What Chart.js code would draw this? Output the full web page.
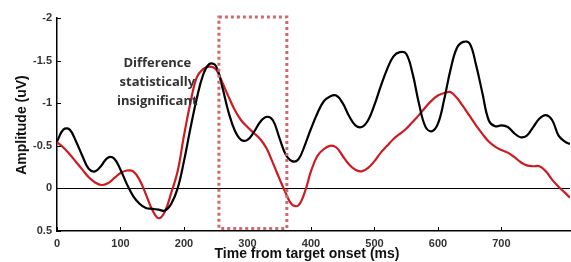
<!DOCTYPE html>
<html>
<head>
<meta charset="utf-8">
<script src="https://cdn.jsdelivr.net/npm/chart.js@4"></script>
<style>
  html, body { margin: 0; padding: 0; background: #fff; }
  #wrap { width: 571px; height: 262px; }
</style>
</head>
<body>
<div id="wrap"><canvas id="erpChart" width="571" height="262"></canvas></div>
<script>
// time points (ms) and amplitudes (uV)
const timesMs = [0,10,20,30,40,50,60,70,80,90,100,110,120,130,140,150,160,170,180,190,
  200,210,220,230,240,250,260,270,280,290,300,310,320,330,340,350,360,370,380,390,
  400,410,420,430,440,450,460,470,480,490,500,510,520,530,540,550,560,570,580,590,
  600,610,620,630,640,650,660,670,680,690,700,710,720,730,740,750,760,770,780,790,800,808];

const blackAmp = [-0.55,-0.69,-0.69,-0.55,-0.38,-0.23,-0.20,-0.27,-0.36,-0.35,
  -0.22,-0.05,0.09,0.18,0.23,0.24,0.25,0.26,0.18,0.0,
  -0.32,-0.70,-1.05,-1.33,-1.46,-1.44,-1.20,-0.90,-0.68,-0.57,
  -0.57,-0.66,-0.78,-0.84,-0.80,-0.60,-0.40,-0.32,-0.34,-0.50,
  -0.70,-0.88,-1.02,-1.08,-1.09,-1.00,-0.85,-0.74,-0.72,-0.80,
  -0.98,-1.20,-1.40,-1.55,-1.60,-1.58,-1.35,-1.00,-0.73,-0.67,
  -0.76,-1.05,-1.40,-1.65,-1.72,-1.70,-1.45,-1.12,-0.80,-0.73,
  -0.74,-0.72,-0.65,-0.60,-0.62,-0.72,-0.82,-0.86,-0.80,-0.62,-0.55,-0.52];

const redAmp = [-0.54,-0.48,-0.40,-0.31,-0.22,-0.13,-0.07,-0.04,-0.06,-0.12,
  -0.18,-0.21,-0.20,-0.10,0.07,0.25,0.35,0.27,0.05,-0.20,
  -0.62,-1.00,-1.30,-1.40,-1.43,-1.40,-1.25,-1.08,-0.92,-0.80,
  -0.72,-0.65,-0.58,-0.47,-0.30,-0.12,0.05,0.19,0.20,0.05,
  -0.20,-0.38,-0.46,-0.50,-0.48,-0.38,-0.28,-0.22,-0.20,-0.24,
  -0.32,-0.42,-0.50,-0.58,-0.64,-0.70,-0.78,-0.86,-0.95,-1.03,
  -1.09,-1.12,-1.13,-1.06,-0.96,-0.85,-0.74,-0.64,-0.55,-0.49,
  -0.45,-0.42,-0.37,-0.31,-0.27,-0.26,-0.26,-0.20,-0.10,-0.02,0.05,0.11];

const xTicks = [0, 100, 200, 300, 400, 500, 600, 700];
const yTicks = [-2, -1.5, -1, -0.5, 0, 0.5];
const windowMs = [255, 362];
const noteLines = ["Difference", "statistically", "insignificant"];

const toPoints = (ys) => timesMs.map((t, i) => ({ x: t, y: ys[i] }));

// extras drawn on top: inside tick marks, the dotted window, note and axis titles
const extras = {
  id: "extras",
  afterDraw(chart) {
    const { ctx, chartArea: a, scales: { x, y } } = chart;
    ctx.save();

    // inside tick marks like matlab
    ctx.strokeStyle = "#000";
    ctx.lineWidth = 1;
    ctx.beginPath();
    yTicks.forEach((v) => {
      const py = Math.round(y.getPixelForValue(v)) + 0.5;
      ctx.moveTo(a.left, py);
      ctx.lineTo(a.left + 4, py);
    });
    xTicks.forEach((v) => {
      const px = Math.round(x.getPixelForValue(v)) + 0.5;
      ctx.moveTo(px, a.bottom);
      ctx.lineTo(px, a.bottom - 4);
    });
    ctx.stroke();

    // dotted window
    const x0 = x.getPixelForValue(windowMs[0]);
    const x1 = x.getPixelForValue(windowMs[1]);
    const y0 = y.getPixelForValue(-2) - 1;
    const y1 = y.getPixelForValue(0.47);
    ctx.strokeStyle = "#d0686c";
    ctx.lineWidth = 3;
    ctx.setLineDash([3, 3]);
    ctx.strokeRect(x0, y0, x1 - x0, y1 - y0);
    ctx.setLineDash([]);

    // note
    ctx.fillStyle = "#333";
    ctx.font = "bold 13px 'Open Sans', 'DejaVu Sans', sans-serif";
    ctx.textAlign = "center";
    ctx.textBaseline = "middle";
    const noteX = x.getPixelForValue(158);
    noteLines.forEach((s, i) => {
      ctx.fillText(s, noteX, 63 + i * 19);
    });

    // axis titles
    ctx.fillStyle = "#111";
    ctx.font = "bold 14px 'Liberation Sans', Arial, sans-serif";
    ctx.fillText("Time from target onset (ms)", 307, 254);
    ctx.translate(22, 125);
    ctx.rotate(-Math.PI / 2);
    ctx.fillText("Amplitude (uV)", 0, 0);

    ctx.restore();
  },
};

document.addEventListener("DOMContentLoaded", function () {
  const ctx = document.getElementById("erpChart").getContext("2d");
  new Chart(ctx, {
    type: "line",
    data: {
      datasets: [
        {
          label: "Black",
          data: toPoints(blackAmp),
          borderColor: "#000",
          borderWidth: 2.2,
          pointRadius: 0,
          tension: 0.4,
        },
        {
          label: "Red",
          data: toPoints(redAmp),
          borderColor: "#cc1c22",
          borderWidth: 2.2,
          pointRadius: 0,
          tension: 0.4,
        },
      ],
    },
    options: {
      responsive: false,
      animation: false,
      devicePixelRatio: 1,
      layout: { padding: { top: 18, right: 1, left: 0, bottom: 0 } },
      plugins: {
        legend: { display: false },
        tooltip: { enabled: false },
      },
      scales: {
        x: {
          type: "linear",
          min: 0,
          max: 808,
          afterBuildTicks: (s) => { s.ticks = xTicks.map((v) => ({ value: v })); },
          afterFit: (s) => { s.height = 31; },
          border: { color: "#000", width: 1.5 },
          grid: { display: false, drawTicks: false },
          ticks: {
            padding: 6,
            color: "#333",
            font: { family: "'Liberation Sans', Arial, sans-serif", size: 11, weight: "bold" },
            maxRotation: 0,
          },
        },
        y: {
          reverse: true,
          min: -2,
          max: 0.5,
          afterBuildTicks: (s) => { s.ticks = yTicks.map((v) => ({ value: v })); },
          afterFit: (s) => { s.width = 57; },
          border: { color: "#000", width: 1.5 },
          grid: {
            drawTicks: false,
            color: (c) => (c.tick && c.tick.value === 0 ? "#000" : "rgba(0,0,0,0)"),
            lineWidth: 1,
          },
          ticks: {
            padding: 5,
            color: "#333",
            font: { family: "'Liberation Sans', Arial, sans-serif", size: 11, weight: "bold" },
            callback: (v) => String(v),
          },
        },
      },
    },
    plugins: [extras],
  });
});
</script>
</body>
</html>
